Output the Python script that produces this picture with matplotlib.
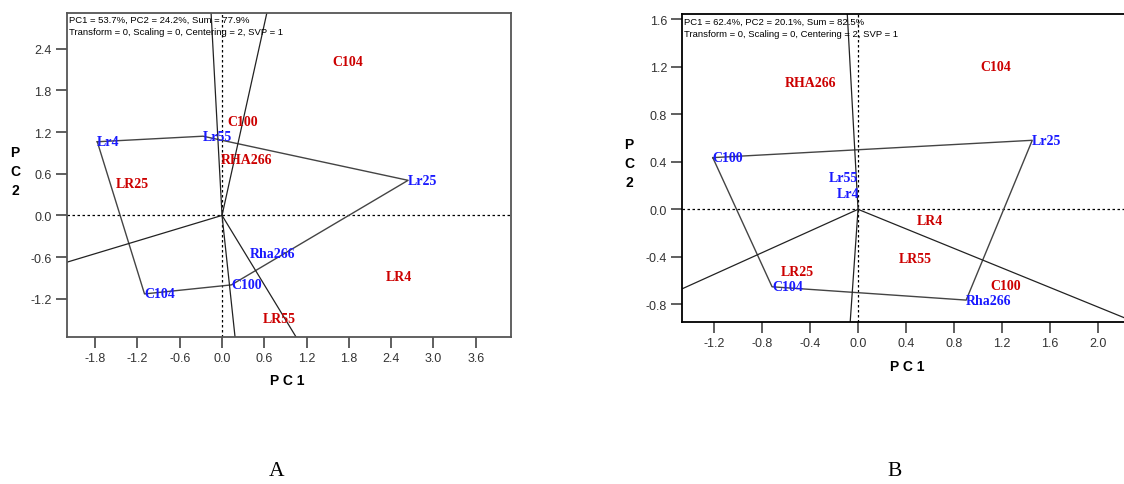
import numpy as np
import matplotlib
matplotlib.use("Agg")
import matplotlib.pyplot as plt

# ---------------- Data ----------------
# Panel A
a_header = ["PC1 = 53.7%, PC2 = 24.2%, Sum = 77.9%",
            "Transform = 0, Scaling = 0, Centering = 2, SVP = 1"]
a_gen_names = ["Lr4", "Lr55", "Lr25", "Rha266", "C100", "C104"]
a_gen_x = [-1.77, -0.27, 2.64, 0.40, 0.133, -1.10]
a_gen_y = [1.06, 1.14, 0.505, -0.55, -1.00, -1.13]
a_hull = ["Lr4", "Lr55", "Lr25", "C100", "C104"]
a_env_names = ["C104", "C100", "RHA266", "LR25", "LR4", "LR55"]
a_env_x = [1.566, 0.077, -0.023, -1.51, 2.32, 0.58]
a_env_y = [2.21, 1.35, 0.81, 0.457, -0.88, -1.49]
a_xticks = [-1.8, -1.2, -0.6, 0.0, 0.6, 1.2, 1.8, 2.4, 3.0, 3.6]
a_yticks = [-1.2, -0.6, 0.0, 0.6, 1.2, 1.8, 2.4]
a_xlim = (-2.20, 4.10)
a_ylim = (-1.75, 2.92)

# Panel B
b_header = ["PC1 = 62.4%, PC2 = 20.1%, Sum = 82.5%",
            "Transform = 0, Scaling = 0, Centering = 2, SVP = 1"]
b_gen_names = ["C100", "Lr25", "Rha266", "C104", "Lr55", "Lr4"]
b_gen_x = [-1.213, 1.455, 0.903, -0.718, -0.243, -0.181]
b_gen_y = [0.435, 0.581, -0.764, -0.652, 0.264, 0.137]
b_hull = ["C100", "Lr25", "Rha266", "C104"]
b_env_names = ["RHA266", "C104", "LR4", "LR55", "LR25", "C100"]
b_env_x = [-0.615, 1.018, 0.487, 0.344, -0.649, 1.107]
b_env_y = [1.064, 1.20, -0.096, -0.413, -0.522, -0.643]
b_xticks = [-1.2, -0.8, -0.4, 0.0, 0.4, 0.8, 1.2, 1.6, 2.0]
b_yticks = [-0.8, -0.4, 0.0, 0.4, 0.8, 1.2, 1.6]
b_xlim = (-1.468, 2.24)
b_ylim = (-0.946, 1.642)

RED = "#cc0000"
BLUE = "#1a1aff"
SERIF = ["Liberation Serif", "DejaVu Serif"]
SANS = ["Liberation Sans", "DejaVu Sans"]

fig = plt.figure(figsize=(11.24, 4.85), dpi=100)


def panel(rect, header, gnames, gx, gy, hull, enames, ex, ey, xt, yt, xl, yl):
    ax = fig.add_axes(rect)
    ax.set_xlim(*xl)
    ax.set_ylim(*yl)
    # reference axes through origin
    ax.axhline(0, color="black", lw=0.9, ls=(0, (2, 2)), zorder=1)
    ax.axvline(0, color="black", lw=0.9, ls=(0, (2, 2)), zorder=1)
    # polygon
    pts = {n: (x, y) for n, x, y in zip(gnames, gx, gy)}
    hx = [pts[n][0] for n in hull] + [pts[hull[0]][0]]
    hy = [pts[n][1] for n in hull] + [pts[hull[0]][1]]
    ax.plot(hx, hy, color="#444444", lw=1.0, zorder=2)
    # rays perpendicular to each edge
    for i in range(len(hull)):
        p1 = np.array(pts[hull[i]])
        p2 = np.array(pts[hull[(i + 1) % len(hull)]])
        d = p2 - p1
        t = -np.dot(p1, d) / np.dot(d, d)
        foot = p1 + t * d
        ax.plot([0, foot[0] * 50], [0, foot[1] * 50], color="#222222", lw=0.9, zorder=2)
    for n, x, y in zip(gnames, gx, gy):
        ax.text(x, y, n, color=BLUE, fontsize=10, fontweight="bold", family=SERIF,
                ha="left", va="center", zorder=3)
    for n, x, y in zip(enames, ex, ey):
        ax.text(x, y, n, color=RED, fontsize=10, fontweight="bold", family=SERIF,
                ha="left", va="center", zorder=3)
    ax.text(0.005, 0.993, header[0] + "\n" + header[1], transform=ax.transAxes,
            ha="left", va="top", fontsize=6.8, family=SANS, linespacing=1.5)
    ax.set_xticks(xt)
    ax.set_yticks(yt)
    ax.set_xticklabels([f"{v:.1f}" for v in xt], family=SANS, fontsize=9, color="#333333")
    ax.set_yticklabels([f"{v:.1f}" for v in yt], family=SANS, fontsize=9, color="#333333")
    ax.tick_params(direction="out", length=8, width=1.2, color="#444444", pad=3)
    for s in ax.spines.values():
        s.set_color("#555555")
        s.set_linewidth(1.3)
    return ax


axA = panel([0.0596, 0.3031, 0.395, 0.669], a_header, a_gen_names, a_gen_x, a_gen_y,
            a_hull, a_env_names, a_env_x, a_env_y, a_xticks, a_yticks, a_xlim, a_ylim)
axB = panel([0.607, 0.3346, 0.395, 0.634], b_header, b_gen_names, b_gen_x, b_gen_y,
            b_hull, b_env_names, b_env_x, b_env_y, b_xticks, b_yticks, b_xlim, b_ylim)
for s in axB.spines.values():
    s.set_color("black")

# axis titles
fig.text(287 / 1124, 1 - 381 / 485, "P C 1", ha="center", va="center",
         fontsize=10, fontweight="bold", family=SANS)
fig.text(907 / 1124, 1 - 367 / 485, "P C 1", ha="center", va="center",
         fontsize=10, fontweight="bold", family=SANS)
fig.text(15 / 1124, 1 - 172 / 485, "P\nC\n2", ha="center", va="center",
         fontsize=10, fontweight="bold", family=SANS, linespacing=1.45)
fig.text(629 / 1124, 1 - 164 / 485, "P\nC\n2", ha="center", va="center",
         fontsize=10, fontweight="bold", family=SANS, linespacing=1.45)

# panel letters
fig.text(277 / 1124, 1 - 472 / 485, "A", ha="center", va="center", fontsize=15.5, family=SERIF)
fig.text(895 / 1124, 1 - 472 / 485, "B", ha="center", va="center", fontsize=15.5, family=SERIF)

fig.savefig("out.png", dpi=100)
